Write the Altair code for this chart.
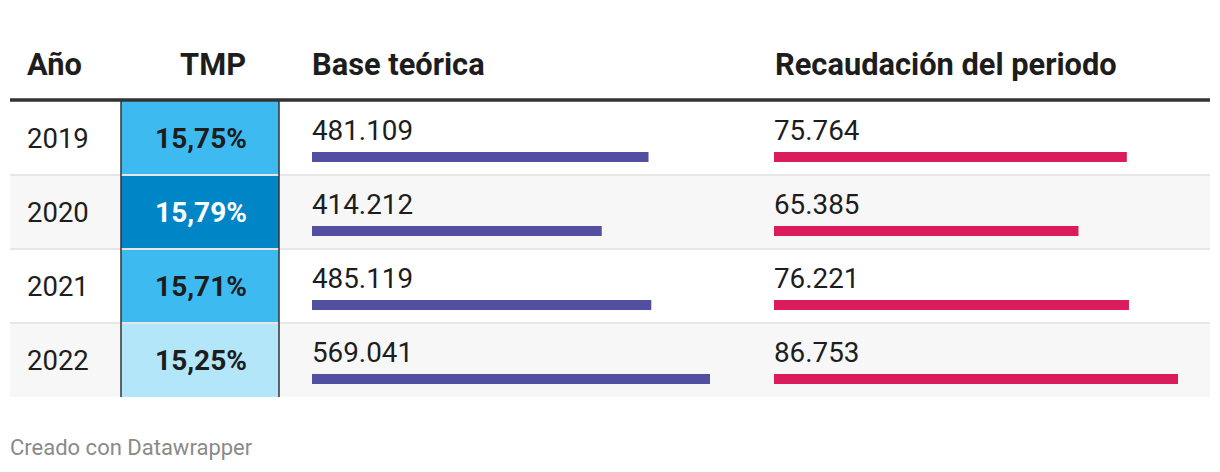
import altair as alt
import pandas as pd

# ---- data ----
years = [2019, 2020, 2021, 2022]
tmp = [15.75, 15.79, 15.71, 15.25]
base = [481109, 414212, 485119, 569041]
recaud = [75764, 65385, 76221, 86753]
headers = ["Año", "TMP", "Base teórica", "Recaudación del periodo"]
footer = "Creado con Datawrapper"


def miles(v):
    return f"{v:,}".replace(",", ".")


df = pd.DataFrame({
    "year": years,
    "tmp": tmp,
    "tmp_label": [f"{v:.2f}".replace(".", ",") + "%" for v in tmp],
    "base": base,
    "base_label": [miles(v) for v in base],
    "recaud": recaud,
    "recaud_label": [miles(v) for v in recaud],
})

FONT = "Roboto"
TXT = "#1d1d1d"

Y = alt.Y("year:O", sort=years,
          scale=alt.Scale(range=[93, 389], paddingInner=0, paddingOuter=0),
          axis=None)
Ytop = alt.Y("year:O", sort=years, bandPosition=0,
             scale=alt.Scale(range=[93, 389], paddingInner=0, paddingOuter=0),
             axis=None)

base_chart = alt.Chart(df)

bg = base_chart.mark_rect().encode(
    x=alt.value(2), x2=alt.value(1202), y=Y,
    fill=alt.condition("datum.year % 2 == 0", alt.value("#f7f7f7"), alt.value("#ffffff")),
)

tmp_rect = base_chart.mark_rect().encode(
    x=alt.value(113), x2=alt.value(271), y=Y,
    fill=alt.Fill("tmp:Q", legend=None,
                  scale=alt.Scale(type="threshold", domain=[15.5, 15.77],
                                  range=["#b3e6f9", "#3dbbf1", "#0086c6"])),
)

seps = base_chart.transform_filter("datum.year > 2019").mark_rule(
    color="#e6e6e6", strokeWidth=2
).encode(x=alt.value(2), x2=alt.value(1202), y=Ytop)

one = pd.DataFrame({"k": [0]})

vlines = alt.layer(
    alt.Chart(one).mark_rule(color="#333333", strokeWidth=1.5).encode(
        x=alt.value(113), y=alt.value(93), y2=alt.value(389)),
    alt.Chart(one).mark_rule(color="#333333", strokeWidth=1.5).encode(
        x=alt.value(271), y=alt.value(93), y2=alt.value(389)),
)

topline = alt.Chart(one).mark_rule(color="#333333", strokeWidth=3.5).encode(
    x=alt.value(2), x2=alt.value(1202), y=alt.value(92))

hdr_x = [19, 238, 304, 767]
hdr_align = ["left", "right", "left", "left"]
hdr_layers = [
    alt.Chart(pd.DataFrame({"h": [h]})).mark_text(
        font=FONT, fontSize=30.8, fontWeight="bold", color=TXT,
        align=a, baseline="alphabetic"
    ).encode(x=alt.value(xv), y=alt.value(66.5), text="h:N")
    for h, xv, a in zip(headers, hdr_x, hdr_align)
]

year_txt = base_chart.mark_text(
    font=FONT, fontSize=27.5, color=TXT, align="left", baseline="alphabetic", dy=10
).encode(x=alt.value(19), y=Y, text="year:N")

tmp_txt = base_chart.mark_text(
    font=FONT, fontSize=28, fontWeight="bold", align="center", baseline="alphabetic", dy=10
).encode(
    x=alt.value(193), y=Y, text="tmp_label:N",
    color=alt.condition("datum.tmp > 15.77", alt.value("#ffffff"), alt.value(TXT)),
)

base_txt = base_chart.mark_text(
    font=FONT, fontSize=27.8, color=TXT, align="left", baseline="alphabetic", dy=1.5
).encode(x=alt.value(304), y=Y, text="base_label:N")

rec_txt = base_chart.mark_text(
    font=FONT, fontSize=27.8, color=TXT, align="left", baseline="alphabetic", dy=1.5
).encode(x=alt.value(766), y=Y, text="recaud_label:N")

base_bar = base_chart.mark_bar(height=10, yOffset=19, color="#524fa0").encode(
    x=alt.X("base:Q", axis=None,
            scale=alt.Scale(domain=[0, max(base)], range=[304, 702])),
    y=Y,
)

rec_bar = base_chart.mark_bar(height=10, yOffset=19, color="#db1c5c").encode(
    x=alt.X("recaud:Q", axis=None,
            scale=alt.Scale(domain=[0, max(recaud)], range=[766, 1170])),
    y=Y,
)

foot = alt.Chart(pd.DataFrame({"f": [footer]})).mark_text(
    font=FONT, fontSize=22, color="#8a8a8a", align="left", baseline="alphabetic"
).encode(x=alt.value(2), y=alt.value(447), text="f:N")

chart = alt.layer(
    bg, tmp_rect, seps, vlines, topline, *hdr_layers,
    year_txt, tmp_txt, base_txt, rec_txt, base_bar, rec_bar, foot
).resolve_scale(x="independent").properties(
    width=1204, height=456, padding=0, autosize="none"
).configure_view(stroke=None)

chart.save("out.html", embed_options={"renderer": "svg", "actions": False})
